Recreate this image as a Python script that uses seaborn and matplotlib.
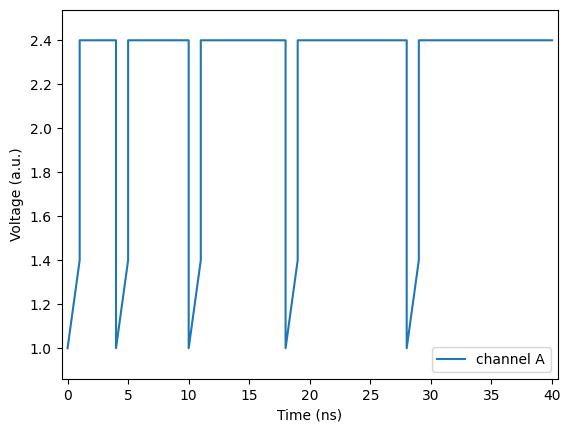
import matplotlib
matplotlib.use("Agg")
import matplotlib.pyplot as plt
import seaborn as sns
import pandas as pd

time_ns = [0, 1, 1, 4, 4, 5, 5, 10, 10, 11, 11, 18, 18, 19, 19, 28, 28, 29, 29, 40]
voltage = [1.0, 1.4, 2.4, 2.4, 1.0, 1.4, 2.4, 2.4, 1.0, 1.4, 2.4, 2.4,
           1.0, 1.4, 2.4, 2.4, 1.0, 1.4, 2.4, 2.4]
series_label = "channel A"

df = pd.DataFrame({"t": time_ns, "v": voltage})

fig = plt.figure(figsize=(5.7, 4.32), dpi=100)
ax = fig.add_axes([61.5 / 570, 1 - 379 / 432, 496 / 570, 369.5 / 432])
sns.lineplot(data=df, x="t", y="v", ax=ax, estimator=None, sort=False,
             color="#1f77b4", label=series_label)
ax.set_xlim(-0.5, 40.45)
ax.set_ylim(0.86, 2.54)
ax.set_xlabel("Time (ns)")
ax.set_ylabel("Voltage (a.u.)")
ax.legend(loc="lower right")
fig.savefig("out.png", dpi=100)
